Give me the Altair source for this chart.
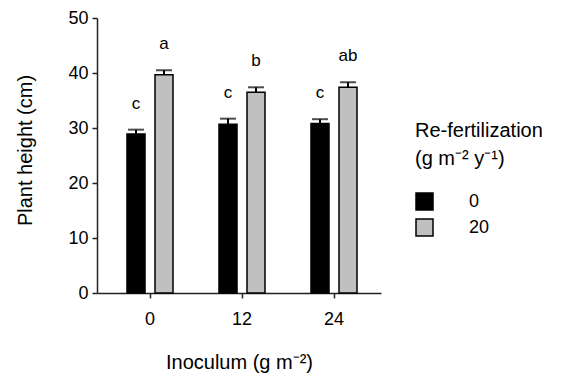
import altair as alt
import pandas as pd

inoculum = ["0", "12", "24"]
refert = ["0", "20"]
height_0 = [28.9, 30.7, 30.8]
height_20 = [39.7, 36.5, 37.4]
err_0 = [0.8, 1.0, 0.8]
err_20 = [0.8, 0.9, 0.9]
letters_0 = ["c", "c", "c"]
letters_20 = ["a", "b", "ab"]

rows = []
for i, inc in enumerate(inoculum):
    for r, h, e, l in (("0", height_0[i], err_0[i], letters_0[i]),
                       ("20", height_20[i], err_20[i], letters_20[i])):
        rows.append({"inoculum": inc, "refert": r, "height": h, "top": h + e, "letter": l})
df = pd.DataFrame(rows)

FONT = "Liberation Sans"

x = alt.X("inoculum:N", sort=inoculum,
          scale=alt.Scale(paddingInner=0, paddingOuter=0.0435, align=0.875),
          axis=alt.Axis(title="Inoculum (g m⁻²)", labelAngle=0, tickSize=5,
                        labelPadding=12, titleY=75, titleBaseline="alphabetic"))
xo = alt.XOffset("refert:N", sort=refert,
                 scale=alt.Scale(paddingInner=0.357, paddingOuter=0.821))

base = alt.Chart(df)

bars = base.mark_bar(stroke="black", strokeWidth=1.5).encode(
    x=x, xOffset=xo,
    y=alt.Y("height:Q", scale=alt.Scale(domain=[0, 50], nice=False),
            axis=alt.Axis(title="Plant height (cm)", values=[0, 10, 20, 30, 40, 50],
                          tickSize=5, labelPadding=4, titleX=-66, titleY=132,
                          titleBaseline="alphabetic", titleAngle=-90)),
    fill=alt.Fill("refert:N", sort=refert,
                  scale=alt.Scale(domain=refert, range=["#000000", "#c0c0c0"]),
                  legend=alt.Legend(title=["Re-fertilization", "(g m⁻² y⁻¹)"],
                                    orient="none", legendX=318, legendY=103)),
)

rules = base.mark_rule(color="black", strokeWidth=2).encode(
    x=x, xOffset=xo, y="height:Q", y2="top:Q")

caps = base.mark_tick(color="black", thickness=2, size=16, orient="horizontal").encode(
    x=x, xOffset=xo, y="top:Q")

letters = base.mark_text(dy=-21, baseline="alphabetic", fontSize=17, font=FONT,
                         color="black").encode(
    x=x, xOffset=xo, y="top:Q", text="letter:N")

chart = alt.layer(bars, rules, caps, letters).properties(
    width=284, height=275,
    autosize=alt.AutoSizeParams(type="none"),
    padding={"left": 89, "top": 10, "right": 172, "bottom": 80},
).configure_view(stroke=None).configure_axis(
    grid=False, domainColor="#222", tickColor="#222", domainWidth=1.5, tickWidth=1.5,
    labelFont=FONT, labelFontSize=18, labelColor="black",
    titleFont=FONT, titleFontSize=20, titleFontWeight="normal", titleColor="black",
).configure_legend(
    titleFont=FONT, titleFontSize=20, titleFontWeight="normal", titleColor="black",
    titleLineHeight=28, titlePadding=23, labelFont=FONT, labelFontSize=18,
    labelColor="black", symbolType="square", symbolSize=289, symbolStrokeColor="black",
    symbolStrokeWidth=1.5, symbolOpacity=1, labelOffset=35, rowPadding=3, padding=0,
)

chart.save("out.html", embed_options={"renderer": "svg", "actions": False})
